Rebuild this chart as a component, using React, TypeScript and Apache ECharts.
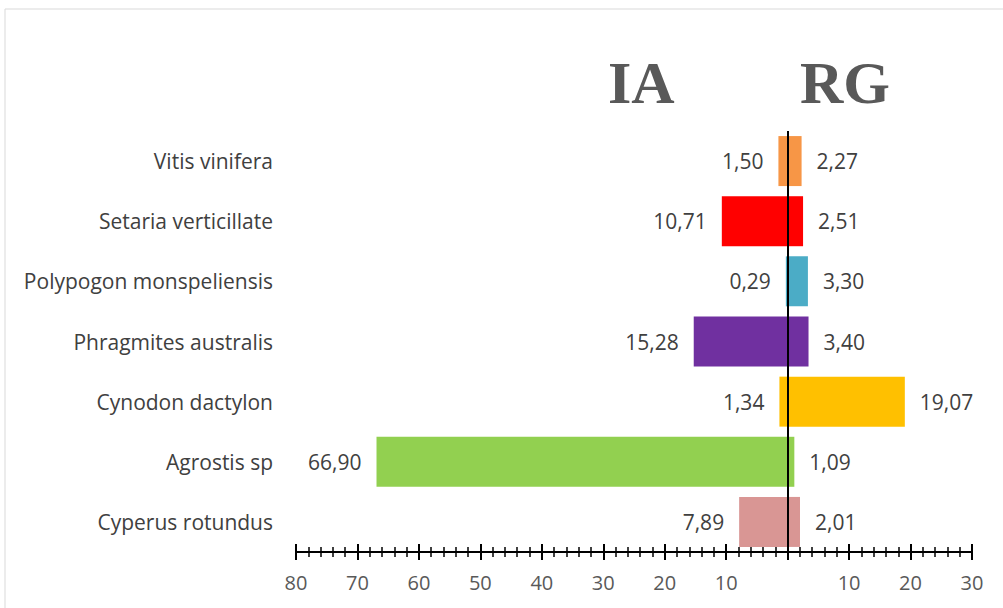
import React, { useEffect, useRef } from "react";
import * as echarts from "echarts";

const categories = [
  "Cyperus rotundus",
  "Agrostis sp",
  "Cynodon dactylon",
  "Phragmites australis",
  "Polypogon monspeliensis",
  "Setaria verticillate",
  "Vitis vinifera",
];
const iaValues = [7.89, 66.9, 1.34, 15.28, 0.29, 10.71, 1.5];
const rgValues = [2.01, 1.09, 19.07, 3.4, 3.3, 2.51, 2.27];
const barColors = ["#D99694", "#92D050", "#FFC000", "#7030A0", "#4BACC6", "#FF0000", "#F79646"];
const leftTitle = "IA";
const rightTitle = "RG";

const fmt = (v: number) => Math.abs(v).toFixed(2).replace(".", ",");
const FONT = "Open Sans";

export default function App() {
  const ref = useRef<HTMLDivElement>(null);
  useEffect(() => {
    if (!ref.current) return;
    const chart = echarts.init(ref.current, null, { renderer: "svg" });
    const labelStyle = { fontFamily: FONT, fontSize: 21, color: "#404040", distance: 15 };
    const axisCommon = {
      type: "value" as const,
      min: -80,
      max: 30,
      interval: 10,
      position: "bottom" as const,
      splitLine: { show: false },
      axisLine: { show: true, onZero: false, lineStyle: { color: "#000", width: 2 } },
    };
    chart.setOption({
      animation: false,
      backgroundColor: "#fff",
      graphic: [
        {
          type: "rect",
          shape: { x: 5, y: 9, width: 1100, height: 700 },
          style: { fill: "none", stroke: "#d9d9d9", lineWidth: 1 },
          silent: true,
        },
        {
          type: "text",
          x: 608,
          y: 83,
          style: {
            text: leftTitle,
            font: "bold 60px 'Liberation Serif'",
            fill: "#595959",
            verticalAlign: "middle",
          },
        },
        {
          type: "text",
          x: 800,
          y: 83,
          style: {
            text: rightTitle,
            font: "bold 60px 'Liberation Serif'",
            fill: "#595959",
            verticalAlign: "middle",
          },
        },
      ],
      grid: { left: 296, right: 31, top: 131, bottom: 56, containLabel: false },
      xAxis: [
        {
          ...axisCommon,
          axisTick: { show: true, inside: false, length: 8, lineStyle: { color: "#000", width: 2 } },
          minorTick: { show: true, splitNumber: 5, length: 5, lineStyle: { color: "#000", width: 1.5 } },
          axisLabel: {
            show: true,
            margin: 20,
            fontFamily: FONT,
            fontSize: 20,
            color: "#595959",
            formatter: (v: number) => (v === 0 ? "" : String(Math.abs(v))),
          },
        },
        {
          ...axisCommon,
          axisTick: { show: true, inside: true, length: 8, lineStyle: { color: "#000", width: 2 } },
          minorTick: { show: true, splitNumber: 5, length: 5, lineStyle: { color: "#000", width: 1.5 } },
          axisLabel: { show: false },
        },
      ],
      yAxis: {
        type: "category",
        data: categories,
        axisLine: { show: false },
        axisTick: { show: false },
        axisLabel: { margin: 23, fontFamily: FONT, fontSize: 21, color: "#404040" },
      },
      series: [
        {
          type: "bar",
          name: leftTitle,
          stack: "total",
          barWidth: 50,
          data: iaValues.map((v, i) => ({ value: -v, itemStyle: { color: barColors[i] } })),
          label: { show: true, position: "left", ...labelStyle, formatter: (p: any) => fmt(p.value) },
          markLine: {
            silent: true,
            symbol: "none",
            label: { show: false },
            lineStyle: { color: "#000", width: 2, type: "solid" },
            data: [{ xAxis: 0 }],
          },
        },
        {
          type: "bar",
          name: rightTitle,
          stack: "total",
          barWidth: 50,
          data: rgValues.map((v, i) => ({ value: v, itemStyle: { color: barColors[i] } })),
          label: { show: true, position: "right", ...labelStyle, formatter: (p: any) => fmt(p.value) },
        },
      ],
    });
    return () => chart.dispose();
  }, []);
  return (
    <div
      ref={ref}
      style={{ position: "fixed", left: 0, top: 0, width: 1003, height: 608, background: "#fff" }}
    />
  );
}
